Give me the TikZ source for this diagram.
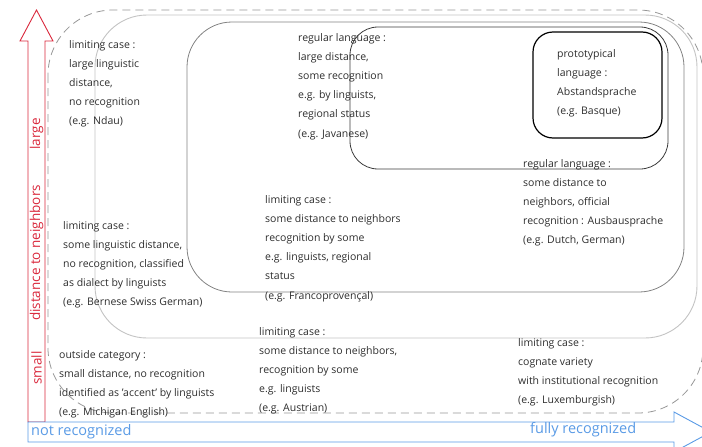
\documentclass[tikz,border=0pt]{standalone}
\usepackage{fontspec}
\setmainfont{Open Sans}
\definecolor{redA}{RGB}{218,40,60}
\definecolor{blueA}{RGB}{90,155,230}
\definecolor{dashgray}{RGB}{150,150,150}
\definecolor{lightbox}{RGB}{195,195,195}
\definecolor{midbox}{RGB}{130,130,130}
\definecolor{darkbox}{RGB}{60,60,60}
\definecolor{txt}{RGB}{45,45,45}
\begin{document}
\begin{tikzpicture}[x=1pt,y=-1pt,
  lbl/.style={anchor=north west,inner sep=0pt,align=left,text=txt,
    font=\fontsize{10.5}{19.2}\selectfont},
  axisred/.style={text=redA,font=\fontsize{13.5}{15}\selectfont,inner sep=0pt},
  axisblue/.style={text=blueA,font=\fontsize{14.5}{16}\selectfont,inner sep=0pt,anchor=west},
  outerdash/.style={draw=dashgray,dash pattern=on 8pt off 5pt,line width=0.8pt,rounded corners=65pt},
  lightr/.style={draw=lightbox,line width=0.9pt,rounded corners=52pt},
  midr/.style={draw=midbox,line width=0.8pt,rounded corners=45pt},
  darkr/.style={draw=darkbox,line width=0.8pt,rounded corners=28pt},
  protor/.style={draw=black,line width=1.2pt,rounded corners=20pt}]
\useasboundingbox (0,0) rectangle (702,447);
\clip (0,0) rectangle (702,447);
% nested regions
\draw[outerdash] (48,10) rectangle (703,413);
\draw[lightr] (95,15) rectangle (697,338);
\draw[midr] (187,22) rectangle (684,292);
\draw[darkr] (350,27) rectangle (668,169);
\draw[protor] (533,32) rectangle (662,138);
% axes
\draw[redA,line width=0.9pt,fill=white] (28,422) -- (28,41) -- (20,41) -- (36.5,10) -- (53,41) -- (45,41) -- (45,422) -- cycle;
\draw[blueA,line width=0.9pt,fill=white] (28,422) -- (674,422) -- (674,412) -- (711,432) -- (674,452) -- (674,442) -- (28,442) -- cycle;
\node[axisred,rotate=90] (small) at (36.5,368) {small};
\node[axisred,rotate=90] (dist) at (36.5,253) {distance to neighbors};
\node[axisred,rotate=90] (large) at (36.5,134) {large};
\node[axisblue] (notrec) at (31,432) {not recognized};
\node[axisblue] (fullrec) at (530,430) {fully recognized};
% texts
\node[lbl] (ndau) at (69,40) {limiting case :\\large linguistic\\distance,\\no recognition\\(e.g. Ndau)};
\node[lbl] (java) at (298,33) {regular language :\\large distance,\\some recognition\\e.g. by linguists,\\regional status\\(e.g. Javanese)};
\node[lbl] (basque) at (557,49) {prototypical\\language :\\Abstandsprache\\(e.g. Basque)};
\node[lbl] (dutch) at (523,159) {regular language :\\some distance to\\neighbors, official\\recognition : Ausbausprache\\(e.g. Dutch, German)};
\node[lbl] (franco) at (265,195) {limiting case :\\some distance to neighbors\\recognition by some\\e.g. linguists, regional\\status\\(e.g. Francoproven\c{c}al)};
\node[lbl] (bern) at (63,221) {limiting case :\\some linguistic distance,\\no recognition, classified\\as dialect by linguists\\(e.g. Bernese Swiss German)};
\node[lbl] (mich) at (59,350) {outside category :\\small distance, no recognition\\identified as ’accent’ by linguists\\(e.g. Michigan English)};
\node[lbl] (aust) at (259,327) {limiting case :\\some distance to neighbors,\\recognition by some\\e.g. linguists\\(e.g. Austrian)};
\node[lbl] (lux) at (518,338) {limiting case :\\cognate variety\\with institutional recognition\\(e.g. Luxemburgish)};
\end{tikzpicture}
\end{document}
